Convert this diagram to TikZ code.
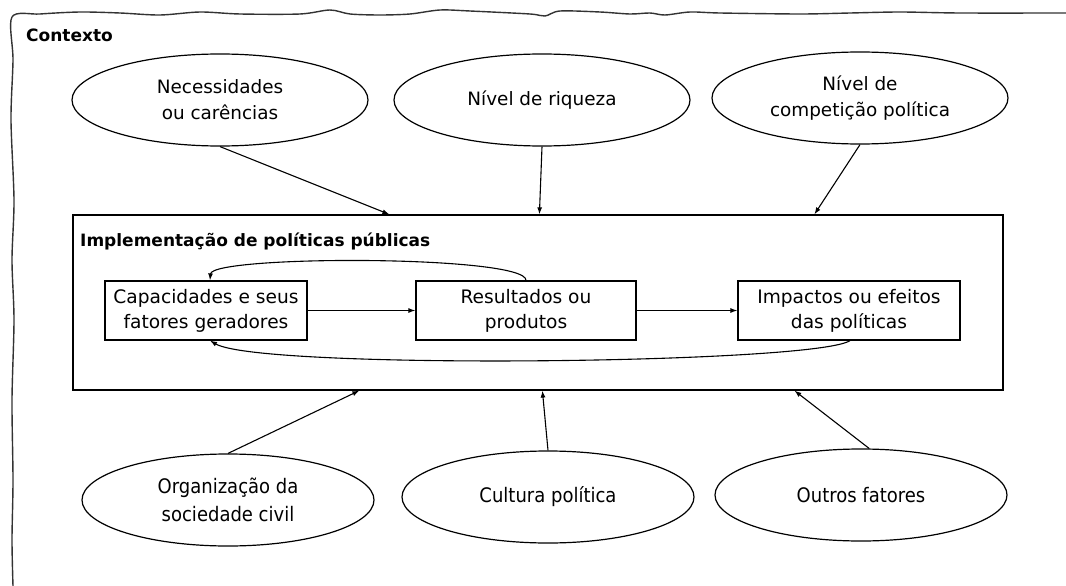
\documentclass[tikz,border=0pt]{standalone}
\usepackage{fontspec}
\setmainfont{DejaVu Sans}
\newfontfamily\estreita[FakeStretch=0.9]{DejaVu Sans}
\usetikzlibrary{shapes,arrows.meta}

\begin{document}
\begin{tikzpicture}[x=1pt,y=-1pt]

\tikzstyle{fator} = [draw, ellipse, line width=1.2pt, minimum width=296pt,
    minimum height=92pt, inner sep=0, align=center,
    font=\fontsize{18.4}{26}\selectfont]
\tikzstyle{fatorbaixo} = [fator, minimum width=292pt,
    font=\estreita\fontsize{20}{28}\selectfont]
\tikzstyle{etapa} = [draw, line width=1.2pt, minimum width=202pt,
    minimum height=59pt, inner sep=0, align=center,
    font=\fontsize{18.6}{25}\selectfont]
\tikzstyle{titulo} = [anchor=west, inner sep=0, font=\bfseries\fontsize{17}{20}\selectfont]
\tikzstyle{seta} = [line width=1.1pt, -{Latex[length=7pt,width=5pt]}]

\useasboundingbox (0,0) rectangle (1066,586);

% =========================
% contexto - bordas rasgadas
% =========================
\draw[line width=1.4pt, black!80, smooth] plot coordinates {
    (1066,13) (960,13) (900,12) (850,13) (800,14) (720,13) (690,12)
    (665,15) (650,13) (630,14) (600,12) (560,11) (545,16) (530,14)
    (470,11) (440,10) (410,14) (380,15) (350,14) (330,10) (300,14)
    (240,14) (200,12) (160,15) (120,13) (80,12) (40,14) (12,17)
    (13,60) (11,120) (14,200) (12,260) (14,320) (12,400) (13,480)
    (12,540) (13,586)};
\node[titulo] (contexto) at (26,35) {Contexto};

% =========================
% fatores de cima
% =========================
\node[fator] (nec) at (220,100) {Necessidades\\ou carências};
\node[fator] (riq) at (542,100) {Nível de riqueza};
\node[fator] (comp) at (860,98) {Nível de\\competição política};

% =========================
% implementacao
% =========================
\node[draw, line width=1.2pt, minimum width=930pt, minimum height=175pt,
    inner sep=0] (impl) at (538,302.5) {};
\node[titulo] (impltit) at (80,241) {Implementação de políticas públicas};

\node[etapa] (cap) at (206,310.5) {Capacidades e seus\\fatores geradores};
\node[etapa, minimum width=220pt] (res) at (526,310.5) {Resultados ou\\produtos};
\node[etapa, minimum width=222pt] (imp) at (849,310.5) {Impactos ou efeitos\\das políticas};

\draw[seta] (cap) -- (res);
\draw[seta] (res) -- (imp);
\draw[seta] (res.north) .. controls (527,255) and (212,255) .. ([xshift=4pt]cap.north);
\draw[seta] ([xshift=1pt]imp.south) .. controls (815,364) and (260,370) .. ([xshift=4pt]cap.south);

% =========================
% setas de fora para dentro
% =========================
\draw[seta] (nec.south) -- ([xshift=317pt]impl.north west);
\draw[seta] (riq.south) -- ([xshift=467pt]impl.north west);
\draw[seta] (comp.south) -- ([xshift=742pt]impl.north west);

% =========================
% fatores de baixo
% =========================
\node[fatorbaixo] (org) at (228,500) {Organização da\\sociedade civil};
\node[fatorbaixo] (cult) at (548,497) {Cultura política};
\node[fatorbaixo] (outros) at (861,495) {Outros fatores};

\draw[seta] (org.north) -- ([xshift=287pt]impl.south west);
\draw[seta] (cult.north) -- ([xshift=470pt]impl.south west);
\draw[seta] (outros.80) -- ([xshift=722pt]impl.south west);

\end{tikzpicture}
\end{document}
